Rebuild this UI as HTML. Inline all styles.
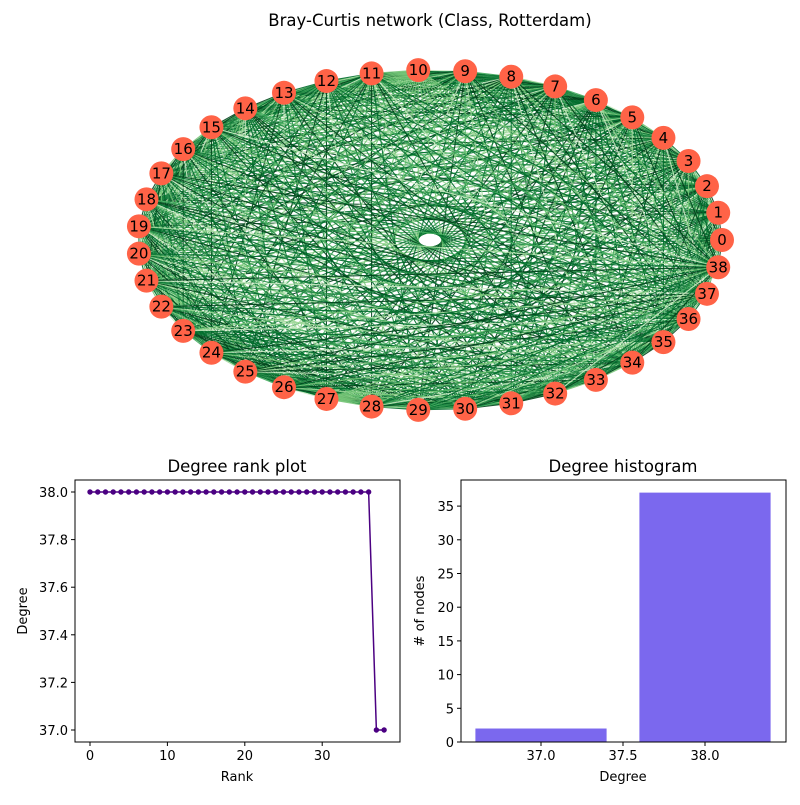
<!DOCTYPE html>
<html><head><meta charset="utf-8"><style>
body{margin:0;background:#fff}
svg{font-family:"DejaVu Sans","Liberation Sans",sans-serif}
</style></head><body>
<svg id="c" width="800" height="800" viewBox="0 0 800 800">
<rect width="800" height="800" fill="#fff"/>
<text x="430" y="26" font-size="16.5" text-anchor="middle">Bray-Curtis network (Class, Rotterdam)</text>
<g id="edges"></g>
<g id="nodes"></g>

<g id="rank">
<text x="237" y="472" font-size="16.5" text-anchor="middle">Degree rank plot</text>
<text x="237" y="781" font-size="13" text-anchor="middle">Rank</text>
<text x="27" y="611" font-size="13" text-anchor="middle" transform="rotate(-90 27 611)">Degree</text>
</g>
<g id="hist">
<text x="623" y="472" font-size="16.5" text-anchor="middle">Degree histogram</text>
<text x="623" y="781" font-size="13" text-anchor="middle">Degree</text>
<text x="424" y="611" font-size="13" text-anchor="middle" transform="rotate(-90 424 611)"># of nodes</text>
</g>
</svg>
<script>
const NS="http://www.w3.org/2000/svg";
const nodeCount=39;
const missingEdge=[37,38];
const rankDegrees=[38,38,38,38,38,38,38,38,38,38,38,38,38,38,38,38,38,38,38,38,38,38,38,38,38,38,38,38,38,38,38,38,38,38,38,38,38,37,37];
const rankXTicks=[0,10,20,30];
const rankYTicks=[37.0,37.2,37.4,37.6,37.8,38.0];
const histDegrees=[37,38];
const histCounts=[2,37];
const histXTicks=[37.0,37.5,38.0];
const histYTicks=[0,5,10,15,20,25,30,35];

function el(t,a,p){const e=document.createElementNS(NS,t);for(const k in a)e.setAttribute(k,a[k]);p.appendChild(e);return e;}

const cx=430,cy=240,rx=292,ry=170;
const pos=i=>{const a=2*Math.PI*i/nodeCount;return [cx+rx*Math.cos(a),cy-ry*Math.sin(a)];};
const eg=document.getElementById('edges');
const greens=['#00441b','#006d2c','#238b45','#41ab5d','#74c476','#a1d99b','#c7e9c0'];
for(let i=0;i<nodeCount;i++)for(let j=i+1;j<nodeCount;j++){
  if(i===missingEdge[0]&&j===missingEdge[1])continue;
  const [x1,y1]=pos(i),[x2,y2]=pos(j);
  const h=((i*37+j*91+i*j*13)%17);
  const col=greens[h<5?1:h<8?0:h<11?2:h<13?3:h<15?4:h<16?5:6];
  const l=el('line',{x1,y1,x2,y2,stroke:col,'stroke-width':1.1,'stroke-opacity':0.9},eg);
  
  
}
const ng=document.getElementById('nodes');
for(let i=0;i<nodeCount;i++){
  const [x,y]=pos(i);
  const c=el('circle',{cx:x,cy:y,r:12,fill:'#ff6347'},ng);
  
  
  const t=el('text',{x:x,y:y+5,'font-size':15,'text-anchor':'middle',fill:'#000'},ng);
  t.textContent=i;
  
  
}

const rg=document.getElementById('rank');
const L={l:75,r:400,t:480,b:742};
const rxs=v=>90+(v-0)*7.74, rys=v=>730-(v-37)*238;
let d='';rankDegrees.forEach((v,i)=>{d+=(i?'L':'M')+rxs(i)+','+rys(v);});
const pl=el('path',{d,fill:'none',stroke:'#4b0082','stroke-width':1.5},rg);


rankDegrees.forEach((v,i)=>{const c=el('circle',{cx:rxs(i),cy:rys(v),r:2.7,fill:'#4b0082'},rg);
  
  });
el('rect',{x:L.l,y:L.t,width:L.r-L.l,height:L.b-L.t,fill:'none',stroke:'#000','stroke-width':1},rg);
rankXTicks.forEach(v=>{const x=rxs(v);el('line',{x1:x,x2:x,y1:L.b,y2:L.b+4,stroke:'#000'},rg);
  const t=el('text',{x,y:L.b+18,'font-size':13,'text-anchor':'middle'},rg);t.textContent=v;
  
  });
rankYTicks.forEach(v=>{const y=rys(v);el('line',{x1:L.l-4,x2:L.l,y1:y,y2:y,stroke:'#000'},rg);
  const t=el('text',{x:L.l-7,y:y+5,'font-size':13,'text-anchor':'end'},rg);t.textContent=v.toFixed(1);
  
  });

const hg=document.getElementById('hist');
const R={l:461,r:786,t:480,b:742};
const hxs=v=>541+(v-37)*164, hys=v=>742-v*6.74;
histDegrees.forEach((v,i)=>{const x0=hxs(v-0.4),x1=hxs(v+0.4);
  const b=el('rect',{x:x0,y:hys(histCounts[i]),width:x1-x0,height:hys(0)-hys(histCounts[i]),fill:'#7b68ee'},hg);
  
  });
el('rect',{x:R.l,y:R.t,width:R.r-R.l,height:R.b-R.t,fill:'none',stroke:'#000','stroke-width':1},hg);
histXTicks.forEach(v=>{const x=hxs(v);el('line',{x1:x,x2:x,y1:R.b,y2:R.b+4,stroke:'#000'},hg);
  const t=el('text',{x,y:R.b+18,'font-size':13,'text-anchor':'middle'},hg);t.textContent=v.toFixed(1);
  
  });
histYTicks.forEach(v=>{const y=hys(v);el('line',{x1:R.l-4,x2:R.l,y1:y,y2:y,stroke:'#000'},hg);
  const t=el('text',{x:R.l-7,y:y+5,'font-size':13,'text-anchor':'end'},hg);t.textContent=v;
  
  });
</script>
</body></html>
